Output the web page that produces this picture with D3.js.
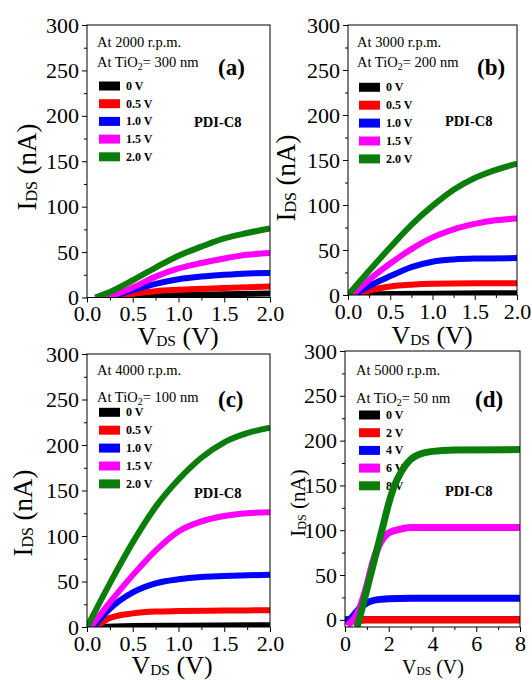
<!DOCTYPE html>
<html>
<head>
<meta charset="utf-8">
<script src="https://cdn.jsdelivr.net/npm/d3@7"></script>
<style>
  body { margin: 0; background: #fff; }
  text { font-family: "Liberation Serif", "Times New Roman", serif; fill: #000; }
</style>
</head>
<body>
<svg id="chart" width="532" height="680"></svg>
<script>
// series colours, same order in every panel
const seriesColors = ["#000000", "#ff0000", "#0000ff", "#ff00ff", "#0a7d0a"];

// gate voltage labels
const gatesABC = ["0 V", "0.5 V", "1.0 V", "1.5 V", "2.0 V"];
const gatesD = ["0 V", "2 V", "4 V", "6 V", "8 V"];

// spin speed / oxide thickness notes
const rpmLabels = ["At 2000 r.p.m.", "At 3000 r.p.m.", "At 4000 r.p.m.", "At 5000 r.p.m."];
const tioThickness = ["300 nm", "200 nm", "100 nm", "50 nm"];
const panelLetters = ["(a)", "(b)", "(c)", "(d)"];

// tick values
const xTicksABC = [0, 0.5, 1.0, 1.5, 2.0];
const xMinorABC = [0.25, 0.75, 1.25, 1.75];
const xTicksD = [0, 2, 4, 6, 8];
const xMinorD = [1, 3, 5, 7];
const yTicks = [0, 50, 100, 150, 200, 250, 300];
const yMinor = [25, 75, 125, 175, 225, 275];

// I_DS (nA) vs V_DS (V), [vds, ids] pairs per gate voltage
const curvesA = [
  [[0.3, 0], [0.6, 1], [1.0, 2.5], [1.5, 3.5], [2.0, 4.5]],
  [[0.25, 0], [0.5, 4], [0.75, 7], [1.0, 8.5], [1.5, 10.5], [2.0, 12]],
  [[0.22, 0], [0.5, 8], [0.75, 15], [1.0, 20], [1.25, 23], [1.5, 25], [1.75, 26.5], [2.0, 27]],
  [[0.22, 0], [0.5, 11], [0.75, 23], [1.0, 32], [1.25, 38], [1.5, 43], [1.75, 47], [2.0, 49]],
  [[0.09, 0], [0.25, 6], [0.5, 19], [0.75, 33], [1.0, 46], [1.25, 56], [1.5, 65], [1.75, 71], [2.0, 76]]
];
const curvesB = [
  [[0, 0], [0.5, 1], [1.0, 1.5], [2.0, 2]],
  [[0.1, 0], [0.25, 5], [0.5, 9.5], [0.75, 11.5], [1.0, 12.5], [1.5, 13], [2.0, 13]],
  [[0.07, 0], [0.25, 10], [0.5, 21], [0.75, 31], [1.0, 37], [1.25, 39.5], [1.5, 40.5], [2.0, 41]],
  [[0.05, 0], [0.25, 17], [0.5, 35], [0.75, 51], [1.0, 64], [1.25, 73], [1.5, 79], [1.75, 83], [2.0, 85]],
  [[0, 0], [0.25, 27], [0.5, 53], [0.75, 78], [1.0, 99], [1.25, 117], [1.5, 130], [1.75, 139], [2.0, 146]]
];
const curvesC = [
  [[0.1, 0], [0.5, 1], [1.0, 1.5], [2.0, 2]],
  [[0.1, 0], [0.25, 10], [0.5, 15], [0.75, 17], [1.0, 17.5], [1.5, 18], [2.0, 18.5]],
  [[0.07, 0], [0.25, 20], [0.5, 38], [0.75, 48], [1.0, 52.5], [1.25, 55], [1.5, 56], [2.0, 57.5]],
  [[0.04, 0], [0.25, 27], [0.5, 57], [0.75, 84], [1.0, 105], [1.25, 116], [1.5, 122], [1.75, 125], [2.0, 126]],
  [[0, 0], [0.25, 48], [0.5, 93], [0.75, 132], [1.0, 162], [1.25, 186], [1.5, 203], [1.75, 213], [2.0, 219]]
];
const curvesD = [
  [[0, 0], [8, 0]],
  [[0.6, -1], [1.0, 0], [8, 0]],
  [[0, -2], [0.25, 1], [0.5, 8], [0.75, 15], [1.0, 19], [1.5, 22.5], [2.0, 23.5], [3, 24], [8, 24]],
  [[0.1, -6], [0.3, -2], [0.5, 4], [0.75, 18], [1.0, 38], [1.25, 62], [1.5, 80], [1.75, 91], [2.0, 97], [2.5, 101], [3.0, 103], [8, 103]],
  [[0.55, -8], [0.75, 10], [1.0, 34], [1.25, 58], [1.5, 82], [1.75, 106], [2.0, 130], [2.25, 149], [2.5, 162], [2.75, 172], [3.0, 179], [3.5, 185.5], [4.0, 188], [5, 189.5], [8, 190]]
];

// where each panel sits on the page
const panels = [
  { curves: curvesA, gates: gatesABC, xMax: 2, yMin: 0, xTicks: xTicksABC, xMinor: xMinorABC, fmt: d3.format(".1f"),
    left: 87, right: 270, top: 25, bottom: 297.5,
    note: [97, 47, 67], letter: [218, 75], pdi: [194, 127], legend: [99, 86, 17.7],
    yTitle: [36, 167, 27, 16], xTitle: [178, 345, 26, 15.5] },
  { curves: curvesB, gates: gatesABC, xMax: 2, yMin: 0, xTicks: xTicksABC, xMinor: xMinorABC, fmt: d3.format(".1f"),
    left: 348, right: 517, top: 25, bottom: 295,
    note: [357, 47, 67], letter: [477, 75], pdi: [445, 126], legend: [359, 87.3, 17.9],
    yTitle: [295, 178, 27, 16], xTitle: [432, 344, 26, 15.5] },
  { curves: curvesC, gates: gatesABC, xMax: 2, yMin: 0, xTicks: xTicksABC, xMinor: xMinorABC, fmt: d3.format(".1f"),
    left: 87, right: 270, top: 354, bottom: 627,
    note: [97, 375, 402], letter: [218, 407], pdi: [194, 498], legend: [99, 412.3, 17.9],
    yTitle: [32, 513, 27, 16], xTitle: [172, 674, 26, 15.5] },
  { curves: curvesD, gates: gatesD, xMax: 8, yMin: -8, xTicks: xTicksD, xMinor: xMinorD, fmt: d3.format("d"),
    left: 345, right: 520, top: 351, bottom: 627,
    note: [356, 375, 403], letter: [475, 407], pdi: [445, 496], legend: [359, 415, 17.7],
    yTitle: [305, 503, 21, 12], xTitle: [433, 674, 20, 11.5] }
];

const svg = d3.select("#chart");

panels.forEach((p, i) => {
  const x = d3.scaleLinear().domain([0, p.xMax]).range([p.left, p.right]);
  const y = d3.scaleLinear().domain([p.yMin, 300]).range([p.bottom, p.top]);
  const g = svg.append("g");

  const clipId = "clip" + i;
  g.append("clipPath").attr("id", clipId)
    .append("rect")
    .attr("x", p.left).attr("y", p.top)
    .attr("width", p.right - p.left).attr("height", p.bottom - p.top);

  // legend (drawn under the curves, as in the original)
  const leg = g.append("g");
  p.gates.forEach((lab, k) => {
    const cy = p.legend[1] + k * p.legend[2];
    leg.append("rect")
      .attr("x", p.legend[0]).attr("y", cy - 4.5)
      .attr("width", 21).attr("height", 9)
      .attr("fill", seriesColors[k]);
    leg.append("text")
      .attr("x", p.legend[0] + 27).attr("y", cy + 4)
      .attr("font-size", 12).attr("font-weight", "bold").text(lab);
  });

  // curves
  const line = d3.line()
    .x(d => x(d[0]))
    .y(d => y(d[1]))
    .curve(d3.curveMonotoneX);

  g.append("g").attr("clip-path", `url(#${clipId})`)
    .selectAll("path")
    .data(p.curves)
    .join("path")
    .attr("d", line)
    .attr("fill", "none")
    .attr("stroke", (d, k) => seriesColors[k])
    .attr("stroke-width", i === 3 ? 7 : 6);

  // frame
  g.append("rect")
    .attr("x", p.left).attr("y", p.top)
    .attr("width", p.right - p.left).attr("height", p.bottom - p.top)
    .attr("fill", "none").attr("stroke", "#000").attr("stroke-width", 1);

  // axes
  const xAxis = g.append("g").attr("transform", `translate(0,${p.bottom})`)
    .call(d3.axisBottom(x).tickValues(p.xTicks).tickFormat(p.fmt).tickSize(5).tickPadding(3));
  g.append("g").attr("transform", `translate(0,${p.bottom})`)
    .call(d3.axisBottom(x).tickValues(p.xMinor).tickFormat("").tickSize(3));
  const yAxis = g.append("g").attr("transform", `translate(${p.left},0)`)
    .call(d3.axisLeft(y).tickValues(yTicks).tickFormat(d3.format("d")).tickSize(5).tickPadding(3));
  g.append("g").attr("transform", `translate(${p.left},0)`)
    .call(d3.axisLeft(y).tickValues(yMinor).tickFormat("").tickSize(3));

  g.selectAll(".domain").remove();
  g.selectAll(".tick line").attr("stroke", "#000");
  xAxis.selectAll("text").attr("font-size", 22).attr("fill", "#000");
  yAxis.selectAll("text").attr("font-size", 22).attr("fill", "#000");

  // notes
  g.append("text").attr("x", p.note[0]).attr("y", p.note[1])
    .attr("font-size", 14.5).text(rpmLabels[i]);
  const tio = g.append("text").attr("x", p.note[0]).attr("y", p.note[2]).attr("font-size", 14.5);
  tio.append("tspan").text("At TiO");
  tio.append("tspan").attr("font-size", 10).attr("dy", 3).text("2");
  tio.append("tspan").attr("dy", -3).text("= " + tioThickness[i]);

  g.append("text").attr("x", p.letter[0]).attr("y", p.letter[1])
    .attr("font-size", 23).attr("font-weight", "bold").text(panelLetters[i]);
  g.append("text").attr("x", p.pdi[0]).attr("y", p.pdi[1])
    .attr("font-size", 14.5).attr("font-weight", "bold").text("PDI-C8");

  // axis titles
  const yt = g.append("text")
    .attr("transform", `translate(${p.yTitle[0]},${p.yTitle[1]}) rotate(-90)`)
    .attr("text-anchor", "middle").attr("font-size", p.yTitle[2]);
  yt.append("tspan").text("I");
  yt.append("tspan").attr("font-size", p.yTitle[3]).attr("dy", 1).text("DS");
  yt.append("tspan").attr("dy", -1).text(" (nA)");

  const xt = g.append("text")
    .attr("x", p.xTitle[0]).attr("y", p.xTitle[1])
    .attr("text-anchor", "middle").attr("font-size", p.xTitle[2]);
  xt.append("tspan").text("V");
  xt.append("tspan").attr("font-size", p.xTitle[3]).attr("dy", 1).text("DS");
  xt.append("tspan").attr("dy", -1).text(" (V)");
});
</script>
</body>
</html>
